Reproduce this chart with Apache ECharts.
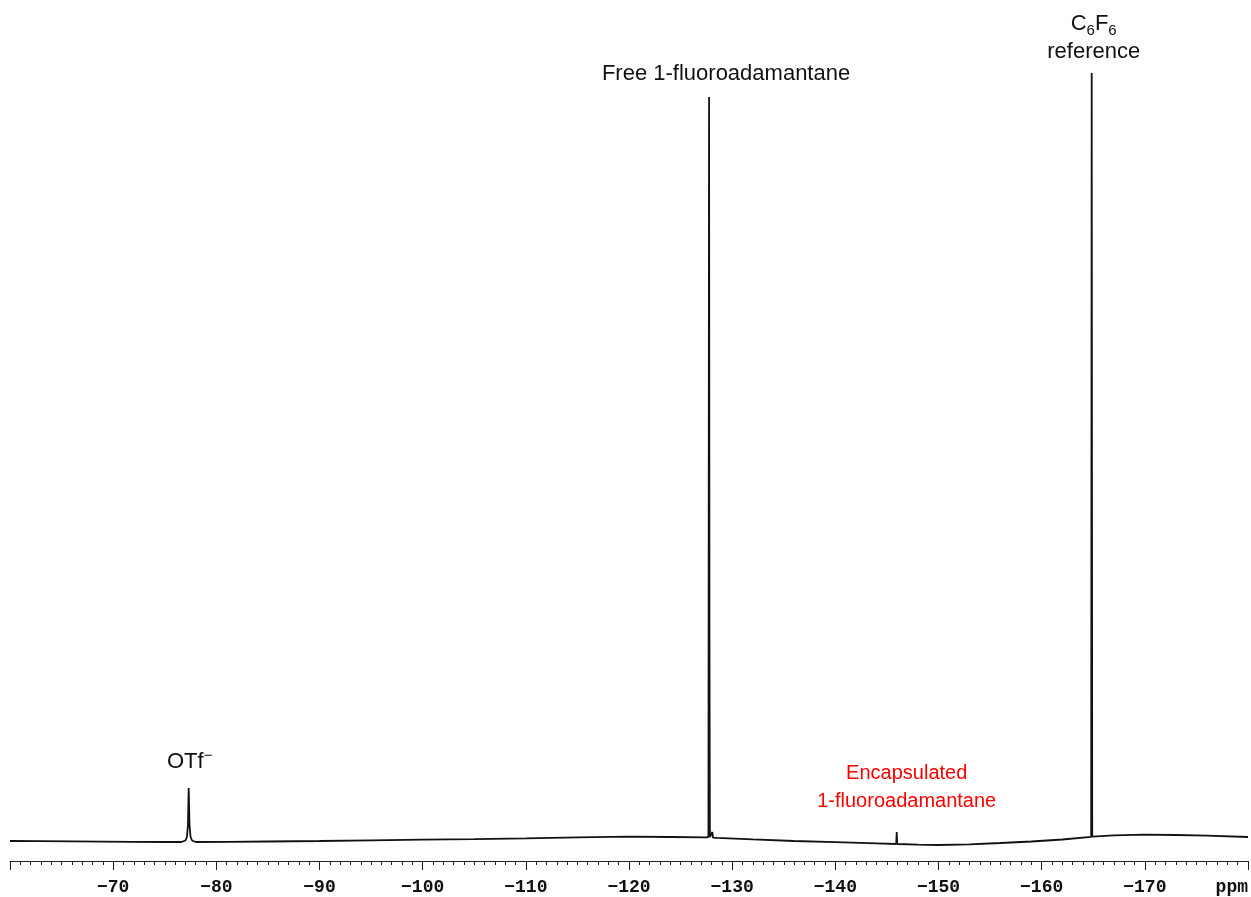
<!DOCTYPE html>
<html>
<head>
<meta charset="utf-8">
<title>19F NMR spectrum</title>
<script src="https://cdn.jsdelivr.net/npm/echarts@6/dist/echarts.min.js"></script>
<style>
  html, body { margin: 0; padding: 0; background: #ffffff; }
  #chart { width: 1251px; height: 897px; }
</style>
</head>
<body>
<div id="chart"></div>
<script>
// Chemical shift (ppm) of each sampled point of the 19F trace, high to low field
const shiftPpm = [
  -60, -63, -66, -69, -72, -75, -76.6,
  -77.0, -77.15, -77.25, -77.32, -77.4, -77.5, -77.65,
  -78, -81, -85, -90, -95, -100, -105, -110, -115, -120, -124,
  -127.5, -127.7, -127.76, -127.8, -127.84, -128.0, -128.08, -128.14,
  -128.5, -132, -136, -140, -144, -145.9, -145.95, -146.0,
  -148, -150, -153, -156, -159, -162, -164.8, -164.85, -164.9,
  -167, -170, -173, -176, -180
];
// Signal intensity (arbitrary units) at each shift above
const intensity = [
  -1, -1.2, -1.4, -1.6, -1.8, -2, -2,
  -0.5, 3, 15, 52, 15, 3, -0.5,
  -2, -1.8, -1.5, -1, -0.3, 0.3, 0.8, 1.6, 2.6, 3.3, 3,
  2.6, 3, 743, 203, 3, 2.4, 8, 2.4,
  2.2, 0.6, -1, -2.2, -3.4, -4, 8, -4,
  -4.6, -5, -4.3, -3, -1.5, 0.5, 3.2, 767, 3.3,
  4.6, 5.3, 5, 4.3, 3
];

// Peak annotations: position of the peak and its caption
const peakShift = [-77.32, -127.76, -145.95, -164.85];
const peakHeight = [52, 743, 8, 767];
const peakCaption = [
  '{n|OTf}{sup|\u2212}',
  'Free 1-fluoroadamantane',
  'Encapsulated\n1-fluoroadamantane',
  '{n|C}{sub|6}{n|F}{sub|6}\n{n|reference}'
];
const peakColor = ['#111111', '#111111', '#ff0000', '#111111'];
const peakOffset = [[1, -26], [17, -23], [10, -45], [2, -35]];
const peakFontSize = [22, 22, 20, 22];

// Axis range and tick spacing (ppm)
const axisMin = -180;
const axisMax = -60;
const axisStep = 10;

const trace = shiftPpm.map((x, i) => [x, intensity[i]]);

const markData = peakShift.map((x, i) => ({
  coord: [x, peakHeight[i]],
  label: {
    show: true,
    position: 'inside',
    offset: peakOffset[i],
    formatter: peakCaption[i],
    color: peakColor[i],
    fontFamily: 'Liberation Sans, Arial, sans-serif',
    fontSize: peakFontSize[i],
    lineHeight: 28,
    align: 'center',
    rich: {
      n: { fontSize: 22, lineHeight: 28, color: peakColor[i], fontFamily: 'Liberation Sans, Arial, sans-serif' },
      sub: { fontSize: 15, lineHeight: 15, verticalAlign: 'bottom', color: peakColor[i], fontFamily: 'Liberation Sans, Arial, sans-serif' },
      sup: { fontSize: 15, lineHeight: 20, verticalAlign: 'top', color: peakColor[i], fontFamily: 'Liberation Sans, Arial, sans-serif' }
    }
  }
}));

const chart = echarts.init(document.getElementById('chart'), null, { renderer: 'canvas' });

chart.setOption({
  animation: false,
  backgroundColor: '#ffffff',
  grid: { left: 10, right: 3, top: 40, bottom: 36 },
  xAxis: {
    type: 'value',
    min: axisMin,
    max: axisMax,
    interval: axisStep,
    inverse: true,
    axisLine: { show: true, onZero: false, lineStyle: { color: '#222', width: 1 } },
    axisTick: { show: true, length: 9, lineStyle: { color: '#222', width: 1 } },
    minorTick: { show: true, splitNumber: 10, length: 4, lineStyle: { color: '#222', width: 1 } },
    splitLine: { show: false },
    axisLabel: {
      margin: 17,
      fontFamily: 'Liberation Mono, Courier New, monospace',
      fontWeight: 'bold',
      fontSize: 18,
      color: '#111',
      alignMinLabel: 'right',
      formatter: function (v) {
        if (v === axisMax) return '';
        if (v === axisMin) return 'ppm';
        return '\u2212' + Math.abs(v);
      }
    }
  },
  yAxis: { type: 'value', min: -21, max: 800, show: false, splitLine: { show: false } },
  series: [{
    type: 'line',
    data: trace,
    symbol: 'none',
    smooth: false,
    lineStyle: { color: '#111', width: 1.8 },
    markPoint: {
      symbol: 'circle',
      symbolSize: 1,
      itemStyle: { color: 'rgba(0,0,0,0)' },
      data: markData
    }
  }]
});
</script>
</body>
</html>
